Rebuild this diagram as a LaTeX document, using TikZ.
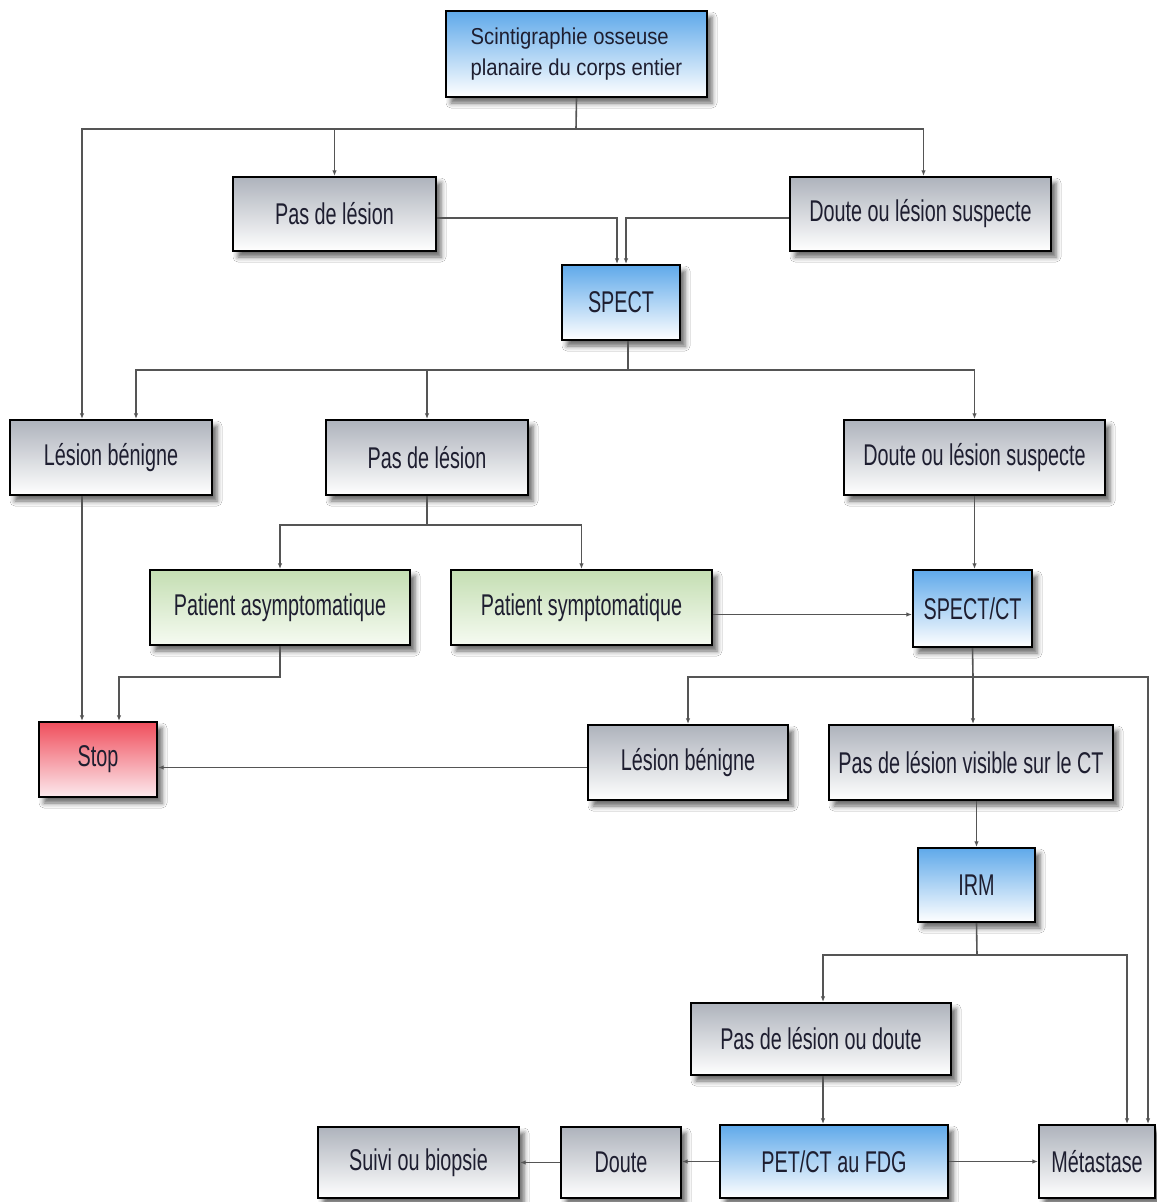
\documentclass[tikz,border=0pt]{standalone}
\usepackage{fontspec}
\setmainfont{Liberation Sans}[FakeStretch=0.66]
\newfontfamily\topfont{Liberation Sans}[FakeStretch=0.88]
\usetikzlibrary{arrows.meta,shadows.blur}

\definecolor{boxgray}{HTML}{AEB3BC}
\definecolor{boxblue}{HTML}{5FA9EA}
\definecolor{boxgreen}{HTML}{C4DEB2}
\definecolor{boxmint}{HTML}{F6FBF2}
\definecolor{boxred}{HTML}{F04E5C}
\definecolor{boxpink}{HTML}{FCEAEE}
\definecolor{linegray}{HTML}{555555}
\definecolor{textdark}{HTML}{1E1E30}

\begin{document}
\begin{tikzpicture}
    [
      x=1pt, y=-1pt,
      box/.style={draw=black, line width=2.2pt, inner sep=0pt, text=textdark,
        font=\fontsize{30}{34}\selectfont, bottom color=white,
        blur shadow={shadow xshift=5pt, shadow yshift=-6pt,
          shadow blur radius=5pt, shadow opacity=60}},
      graybox/.style={box, top color=boxgray, bottom color=white},
      bluebox/.style={box, top color=boxblue, bottom color=white},
      greenbox/.style={box, top color=boxgreen, bottom color=boxmint},
      redbox/.style={box, top color=boxred, bottom color=boxpink},
      link/.style={draw=linegray, line width=1.6pt},
      arr/.style={link, -{Latex[length=5.5pt,width=4.5pt]}},
    ]
    %
    \fill [white] (0,0) rectangle (1156,1202);

    % first exam
    \node [bluebox, minimum width=261pt, minimum height=86pt, align=left,
      font=\topfont\fontsize{23}{31}\selectfont] (scinti) at (576.5,54)
      {Scintigraphie osseuse\\planaire du corps entier};
    \node [graybox, minimum width=203pt, minimum height=74pt] (pas1) at (334.5,214) {Pas de lésion};
    \node [graybox, minimum width=261pt, minimum height=74pt] (doute1) at (920.5,214) {Doute ou lésion suspecte};
    \node [bluebox, minimum width=118pt, minimum height=75pt] (spect) at (621,302.5) {SPECT};

    % after SPECT
    \node [graybox, minimum width=202pt, minimum height=75pt] (benigne1) at (111,457.5) {Lésion bénigne};
    \node [graybox, minimum width=202pt, minimum height=75pt] (pas2) at (427,457.5) {Pas de lésion};
    \node [graybox, minimum width=261pt, minimum height=75pt] (doute2) at (974.5,457.5) {Doute ou lésion suspecte};
    \node [greenbox, minimum width=260pt, minimum height=75pt] (asym) at (280,607.5) {Patient asymptomatique};
    \node [greenbox, minimum width=261pt, minimum height=75pt] (sym) at (581.5,607.5) {Patient symptomatique};
    \node [bluebox, minimum width=119pt, minimum height=77pt] (spectct) at (972.5,608.5) {SPECT/CT};

    % after SPECT/CT
    \node [redbox, minimum width=118pt, minimum height=75pt] (stop) at (98,759.5) {Stop};
    \node [graybox, minimum width=200pt, minimum height=75pt] (benigne2) at (688,762.5) {Lésion bénigne};
    \node [graybox, minimum width=284pt, minimum height=75pt] (pasvis) at (971,762.5) {Pas de lésion visible sur le CT};
    \node [bluebox, minimum width=117pt, minimum height=74pt] (irm) at (976.5,885) {IRM};
    \node [graybox, minimum width=260pt, minimum height=72pt] (pasdoute) at (821,1039) {Pas de lésion ou doute};

    % bottom row
    \node [bluebox, minimum width=228pt, minimum height=73pt] (pet) at (834,1161.5) {PET/CT au FDG};
    \node [graybox, minimum width=120pt, minimum height=71pt] (doute3) at (621,1162.5) {Doute};
    \node [graybox, minimum width=201pt, minimum height=71pt] (suivi) at (418.5,1162.5) {Suivi ou biopsie};
    \node [graybox, minimum width=116pt, minimum height=73pt] (meta) at (1097,1161.5) {Métastase};

    % from the scintigraphy
    \coordinate (bus1) at (576,129);
    \draw [link] (scinti.south) -- (bus1);
    \draw [arr] (bus1) -| ([xshift=-29pt]benigne1.north);
    \draw [arr] (bus1) -| (pas1.north);
    \draw [arr] (bus1) -| ([xshift=3pt]doute1.north);

    % into SPECT
    \draw [arr] ([yshift=-4pt]pas1.east) -| ([xshift=-4pt]spect.north);
    \draw [arr] ([yshift=-4pt]doute1.west) -| ([xshift=5pt]spect.north);

    % from SPECT
    \coordinate (bus2) at (628,370);
    \draw [link] ([xshift=7pt]spect.south) -- (bus2);
    \draw [arr] (bus2) -| ([xshift=25pt]benigne1.north);
    \draw [arr] (bus2) -| (pas2.north);
    \draw [arr] (bus2) -| (doute2.north);

    \coordinate (bus3) at (427,525);
    \draw [link] (pas2.south) -- (bus3);
    \draw [arr] (bus3) -| (asym.north);
    \draw [arr] (bus3) -| (sym.north);
    \draw [arr] ([yshift=-7pt]sym.east) -- ([yshift=-7pt]sym.east -| spectct.west);
    \draw [arr] (doute2.south) -- (doute2.south |- spectct.north);

    % to stop
    \draw [arr] ([xshift=-29pt]benigne1.south) -- ([xshift=-29pt]benigne1.south |- stop.north);
    \draw [arr] (asym.south) -- ++(0,31) -| ([xshift=21pt]stop.north);

    % from SPECT/CT
    \coordinate (bus4) at (973,677);
    \draw [link] (spectct.south) -- (bus4);
    \draw [arr] (bus4) -| (benigne2.north);
    \draw [arr] (bus4) -- (bus4 |- pasvis.north);
    \draw [arr] (bus4) -| ([xshift=51pt]meta.north);
    \draw [arr] ([yshift=-5pt]benigne2.west) -- ([yshift=-5pt]benigne2.west -| stop.east);
    \draw [arr] (irm.north |- pasvis.south) -- (irm.north);

    % from IRM
    \coordinate (bus5) at (977,955);
    \draw [link] (irm.south) -- (bus5);
    \draw [arr] (bus5) -| ([xshift=2pt]pasdoute.north);
    \draw [arr] (bus5) -| ([xshift=30pt]meta.north);
    \draw [arr] ([xshift=2pt]pasdoute.south) -- ([xshift=2pt]pasdoute.south |- pet.north);

    % bottom row
    \draw [arr] (pet.east) -- (pet.east -| meta.west);
    \draw [arr] (pet.west) -- (pet.west -| doute3.east);
    \draw [arr] (doute3.west) -- (doute3.west -| suivi.east);

    \useasboundingbox (0,0) rectangle (1156,1202);
  \end{tikzpicture}
\end{document}
